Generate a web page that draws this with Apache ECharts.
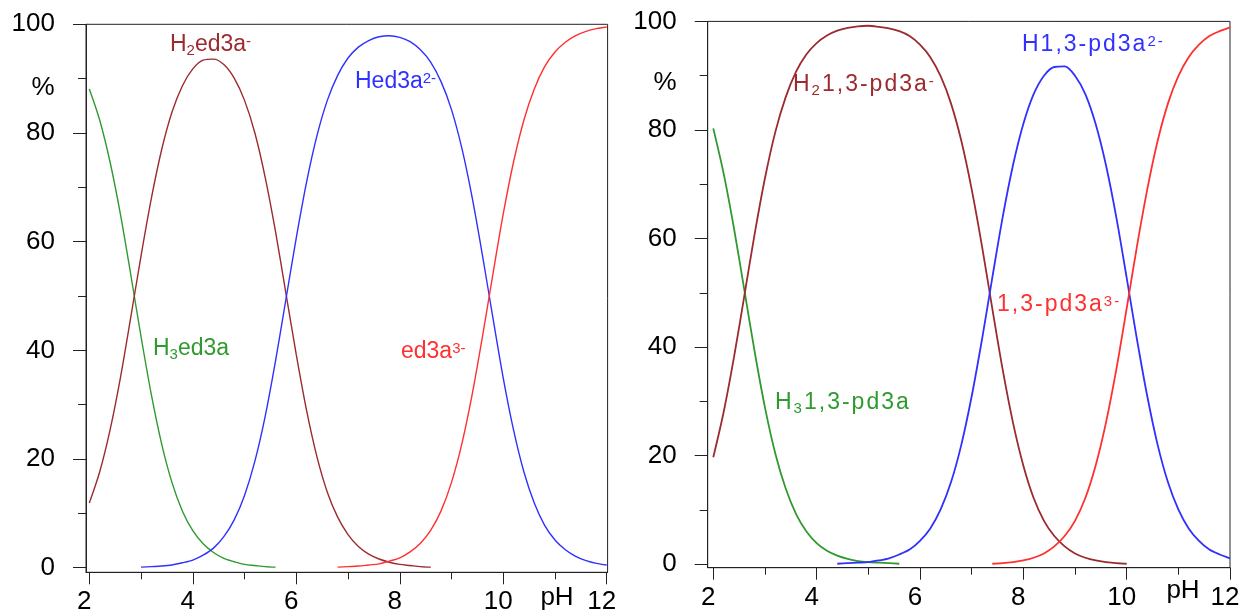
<!DOCTYPE html>
<html>
<head>
<meta charset="utf-8">
<script src="https://cdn.jsdelivr.net/npm/echarts@6/dist/echarts.min.js"></script>
<style>
html,body{margin:0;padding:0;background:#fff;}
#chart{width:1244px;height:616px;}
</style>
</head>
<body>
<div id="chart"></div>
<script>
// pH grid shared by every curve
const PH = [2.0,2.2,2.4,2.6,2.8,3.0,3.2,3.4,3.6,3.8,4.0,4.2,4.4,4.6,4.8,5.0,5.2,5.4,5.6,5.8,
            6.0,6.2,6.4,6.6,6.8,7.0,7.2,7.4,7.6,7.8,8.0,8.2,8.4,8.6,8.8,9.0,9.2,9.4,9.6,9.8,
            10.0,10.2,10.4,10.6,10.8,11.0,11.2,11.4,11.6,11.8,12.0];

// axis ticks
const X_LABELS = [2, 4, 6, 8, 10, 12];
const X_MINOR  = [3, 5, 7, 9, 11];
const Y_LABELS = [0, 20, 40, 60, 80, 100];
const Y_MINOR  = [10, 30, 50, 70, 90];

// ed3a species distribution (%), each curve starts at PH[ED3A_FROM[k]]
const ED3A_H3 = [88.1,82.4,74.7,65.1,54.0,42.5,31.8,22.7,15.6,10.4,6.8,4.4,2.8,1.7,1.1,0.6,0.4,0.2,0.1];
const ED3A_H2 = [11.9,17.6,25.3,34.9,46.0,57.4,68.0,77.0,83.9,88.7,91.8,93.4,93.6,92.6,90.1,86.0,80.0,71.8,
                 61.8,50.5,39.2,28.9,20.4,13.9,9.3,6.1,3.9,2.5,1.6,1.0,0.6,0.4,0.2,0.1];
const ED3A_H1 = [0.1,0.2,0.3,0.5,0.9,1.4,2.3,3.6,5.7,8.8,13.3,19.6,27.9,38.1,49.4,60.7,71.0,79.5,86.0,90.6,
                 93.8,95.8,97.0,97.7,97.9,97.6,96.8,95.3,93.0,89.4,84.3,77.2,68.1,57.4,46.0,34.9,25.3,17.6,
                 11.9,7.8,5.1,3.3,2.1,1.3,0.8,0.5];
const ED3A_L  = [0.1,0.2,0.3,0.5,0.7,1.2,1.8,2.9,4.5,6.9,10.5,15.7,22.8,31.9,42.6,54.0,65.1,74.7,82.4,88.1,
                 92.2,94.9,96.7,97.9,98.7,99.2,99.5];
const ED3A_FROM = [0, 0, 5, 24];

// 1,3-pd3a species distribution (%)
const PD3A_H3 = [80.3,72.0,61.9,50.6,39.2,28.9,20.4,14.0,9.3,6.1,3.9,2.5,1.6,1.0,0.6,0.4,0.3,0.2,0.1];
const PD3A_H2 = [19.7,28.0,38.1,49.4,60.8,71.1,79.6,86.0,90.7,93.9,96.0,97.4,98.3,98.8,99.1,99.2,99.0,98.7,
                 98.2,97.3,95.7,93.4,89.9,84.9,78.0,69.1,58.6,47.1,35.9,26.1,18.2,12.2,8.0,5.2,3.3,2.0,
                 1.2,0.7,0.4,0.2,0.1];
const PD3A_H1 = [0.1,0.2,0.3,0.4,0.7,1.1,1.8,2.7,4.3,6.6,10.1,15.1,22.0,30.9,41.4,52.8,63.9,73.5,81.1,86.6,
                 90.0,91.6,91.7,90.0,86.6,81.1,73.5,63.9,52.8,41.4,30.9,22.0,15.1,10.1,6.6,4.3,2.7,1.8,1.1];
const PD3A_L  = [0.1,0.2,0.4,0.7,1.2,2.0,3.3,5.2,8.0,12.2,18.2,26.1,35.9,47.1,58.6,69.1,78.0,84.9,89.9,93.4,
                 95.7,97.3,98.2,98.9];
const PD3A_FROM = [0, 0, 12, 27];

const COLORS = { H3: '#2f9a2f', H2: '#9b2b2f', H1: '#3030ff', L: '#ff3030' };
const FONT = '"Liberation Sans", Arial, Helvetica, sans-serif';
const TICK_FONT = 26;

function pairs(vals, from) {
  return vals.map((v, i) => [PH[from + i], v]);
}

function axesFor(g, xMin, xMax, yMin) {
  const axisColor = '#222';
  const xs = [
    {
      type: 'value', gridIndex: g, position: 'bottom', min: xMin, max: xMax,
      axisLine: { show: true, onZero: false, lineStyle: { color: axisColor, width: 1 } },
      axisTick: { show: true, customValues: X_LABELS, length: 12, lineStyle: { color: axisColor, width: 1 } },
      axisLabel: { show: true, customValues: X_LABELS, margin: 17, fontSize: TICK_FONT, color: '#000',
                   fontFamily: FONT, padding: [0, 10, 0, 0] },
      splitLine: { show: false }
    },
    {
      type: 'value', gridIndex: g, position: 'bottom', min: xMin, max: xMax,
      axisLine: { show: false, onZero: false },
      axisTick: { show: true, customValues: X_MINOR, length: 7, lineStyle: { color: axisColor, width: 1 } },
      axisLabel: { show: false },
      splitLine: { show: false }
    }
  ];
  const ys = [
    {
      type: 'value', gridIndex: g, position: 'left', min: yMin, max: 100,
      axisLine: { show: true, onZero: false, lineStyle: { color: axisColor, width: 1 } },
      axisTick: { show: true, customValues: Y_LABELS, length: 13, lineStyle: { color: axisColor, width: 1 } },
      axisLabel: { show: true, customValues: Y_LABELS, margin: 31, fontSize: TICK_FONT, color: '#000', fontFamily: FONT },
      splitLine: { show: false }
    },
    {
      type: 'value', gridIndex: g, position: 'left', min: yMin, max: 100,
      axisLine: { show: false, onZero: false },
      axisTick: { show: true, customValues: Y_MINOR, length: 8, lineStyle: { color: axisColor, width: 1 } },
      axisLabel: { show: false },
      splitLine: { show: false }
    }
  ];
  return { xs, ys };
}

function curve(vals, from, color, axisIdx, width) {
  return {
    type: 'line', xAxisIndex: axisIdx, yAxisIndex: axisIdx,
    data: pairs(vals, from), smooth: 0.3, symbol: 'none', showSymbol: false,
    lineStyle: { color: color, width: width }, itemStyle: { color: color },
    silent: true, animation: false
  };
}

// species label with sub/superscripts; spacing adds gap after every glyph
function species(x, y, parts, color, size, spacing) {
  const rich = {
    n: { fontSize: size, fontFamily: FONT, lineHeight: 28, verticalAlign: 'middle', padding: [0, spacing, 0, 0] },
    s: { fontSize: 15, fontFamily: FONT, verticalAlign: 'top', padding: [12, spacing, 0, 0] },
    p: { fontSize: 15, fontFamily: FONT, verticalAlign: 'top', padding: [3, spacing, 0, 0] }
  };
  let text = '';
  parts.forEach(([style, str]) => {
    if (spacing > 0) {
      for (const ch of str) text += '{' + style + '|' + ch + '}';
    } else {
      text += '{' + style + '|' + str + '}';
    }
  });
  return {
    type: 'text', x: x, y: y, silent: true,
    style: { text: text, rich: rich, fill: color, align: 'left', textAlign: 'left',
             verticalAlign: 'middle', textVerticalAlign: 'middle', font: size + 'px ' + FONT }
  };
}

function plain(x, y, str, align) {
  return {
    type: 'text', x: x, y: y, silent: true,
    style: { text: str, fill: '#000', font: TICK_FONT + 'px ' + FONT, align: align, textAlign: align,
             verticalAlign: 'middle', textVerticalAlign: 'middle' }
  };
}

const left = axesFor(0, 1.936, 12.017, -0.85);
const right = axesFor(1, 1.892, 12.0, -0.63);

const option = {
  animation: false,
  backgroundColor: '#fff',
  grid: [
    { left: 86, top: 24.3, width: 521.6, height: 548, show: true, borderColor: '#222', borderWidth: 1, containLabel: false },
    { left: 707.7, top: 21.4, width: 522.3, height: 546.3, show: true, borderColor: '#222', borderWidth: 1, containLabel: false }
  ],
  xAxis: left.xs.concat(right.xs),
  yAxis: left.ys.concat(right.ys),
  series: [
    curve(ED3A_H3, ED3A_FROM[0], COLORS.H3, 0, 1.4),
    curve(ED3A_H2, ED3A_FROM[1], COLORS.H2, 0, 1.4),
    curve(ED3A_H1, ED3A_FROM[2], COLORS.H1, 0, 1.4),
    curve(ED3A_L,  ED3A_FROM[3], COLORS.L,  0, 1.4),
    curve(PD3A_H3, PD3A_FROM[0], COLORS.H3, 2, 1.8),
    curve(PD3A_H2, PD3A_FROM[1], COLORS.H2, 2, 1.8),
    curve(PD3A_H1, PD3A_FROM[2], COLORS.H1, 2, 1.8),
    curve(PD3A_L,  PD3A_FROM[3], COLORS.L,  2, 1.8)
  ],
  graphic: [
    plain(43, 88, '%', 'center'),
    plain(665, 83, '%', 'center'),
    plain(557, 598, 'pH', 'center'),
    plain(1183, 591, 'pH', 'center'),
    species(170, 45,  [['n', 'H'], ['s', '2'], ['n', 'ed3a'], ['p', '-']], COLORS.H2, 23, 0),
    species(355, 82,  [['n', 'Hed3a'], ['p', '2-']], COLORS.H1, 23, 0),
    species(153, 349, [['n', 'H'], ['s', '3'], ['n', 'ed3a']], COLORS.H3, 23, 0),
    species(401, 352, [['n', 'ed3a'], ['p', '3-']], COLORS.L, 23, 0),
    species(793, 85,  [['n', 'H'], ['s', '2'], ['n', '1,3-pd3a'], ['p', '-']], COLORS.H2, 23, 2),
    species(1022, 45, [['n', 'H1,3-pd3a'], ['p', '2-']], COLORS.H1, 23, 2),
    species(775, 403, [['n', 'H'], ['s', '3'], ['n', '1,3-pd3a']], COLORS.H3, 23, 2),
    species(997, 305, [['n', '1,3-pd3a'], ['p', '3-']], COLORS.L, 23, 2)
  ]
};

const chart = echarts.init(document.getElementById('chart'), null, { renderer: 'canvas' });
chart.setOption(option);
</script>
</body>
</html>
